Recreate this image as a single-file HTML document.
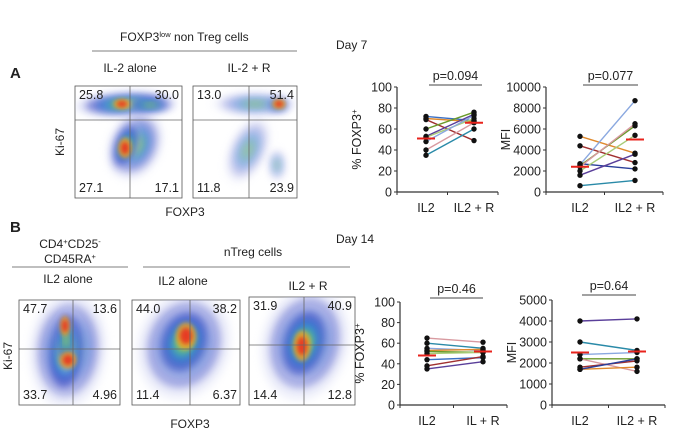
<!DOCTYPE html>
<html><head><meta charset="utf-8">
<style>
body{margin:0;background:#fff;}
#root{position:relative;width:700px;height:446px;overflow:hidden;font-family:"Liberation Sans",Arial,sans-serif;color:#222;}
svg{position:absolute;left:0;top:0;}
</style></head>
<body>
<div id="root">
<svg id="fig" width="700" height="446" viewBox="0 0 700 446">
<defs>
 <filter id="bl" x="-50%" y="-50%" width="200%" height="200%"><feGaussianBlur stdDeviation="4"/></filter>
 <filter id="bl2" x="-50%" y="-50%" width="200%" height="200%"><feGaussianBlur stdDeviation="2"/></filter>
</defs>
<g font-size="12" fill="#222">
 <text x="10" y="78" font-size="15" font-weight="bold">A</text>
 <text x="10" y="232" font-size="15" font-weight="bold">B</text>
 <text x="336" y="49">Day 7</text>
 <text x="336" y="243">Day 14</text>
 <text x="120" y="41">FOXP3<tspan font-size="7.5" dy="-4">low</tspan><tspan dy="4"> non Treg cells</tspan></text>
 <line x1="92" y1="51" x2="297" y2="51" stroke="#555" stroke-width="0.8"/>
 <text x="130" y="72" text-anchor="middle">IL-2 alone</text>
 <text x="249" y="72" text-anchor="middle">IL-2 +  R</text>
 <text x="64" y="142" text-anchor="middle" transform="rotate(-90 64 142)">Ki-67</text>
 <text x="185" y="216" text-anchor="middle">FOXP3</text>
 <text x="70" y="248" text-anchor="middle">CD4<tspan font-size="7.5" dy="-4">+</tspan><tspan dy="4">CD25</tspan><tspan font-size="7.5" dy="-4">-</tspan></text>
 <text x="70" y="263" text-anchor="middle">CD45RA<tspan font-size="7.5" dy="-4">+</tspan></text>
 <line x1="12" y1="267" x2="128" y2="267" stroke="#555" stroke-width="0.8"/>
 <text x="253" y="256" text-anchor="middle">nTreg cells</text>
 <line x1="143" y1="267" x2="350" y2="267" stroke="#555" stroke-width="0.8"/>
 <text x="68" y="283" text-anchor="middle">IL2 alone</text>
 <text x="183" y="285" text-anchor="middle">IL2 alone</text>
 <text x="308" y="290" text-anchor="middle">IL2 + R</text>
 <text x="12" y="356" text-anchor="middle" transform="rotate(-90 12 356)">Ki-67</text>
 <text x="190" y="428" text-anchor="middle">FOXP3</text>
</g>
<g id="flows"></g>
<g id="charts" font-size="12.5" fill="#222"></g>
</svg>
</div>
<script>
// ---- Scatter-line chart data ----
var categoriesA = ["IL2", "IL2 + R"];
var categoriesB = ["IL2", "IL + R"];
var a1Pre  = [72, 70, 69, 60, 53, 52, 48, 40, 35];
var a1Post = [68, 67, 49, 76, 74, 70, 73, 66, 60];
var a1Mean = [51, 66];
var a2Pre  = [5300, 4400, 2700, 2600, 2500, 2400, 2000, 1600, 600];
var a2Post = [3700, 2800, 2200, 8700, 6300, 6500, 5400, 3600, 1100];
var a2Mean = [2400, 5000];
var b1Pre  = [65, 60, 55, 53, 52, 50, 44, 38, 35];
var b1Post = [61, 55, 53, 54, 51, 51, 46, 47, 42];
var b1Mean = [48, 52];
var b2Pre  = [4000, 3000, 2400, 2200, 2200, 1800, 1700, 1700];
var b2Post = [4100, 2600, 2500, 2200, 1600, 2100, 1800, 2200];
var b2Mean = [2500, 2550];
var ticksPct = [0, 20, 40, 60, 80, 100];
var ticksA2 = [0, 2000, 4000, 6000, 8000, 10000];
var ticksB2 = [0, 1000, 2000, 3000, 4000, 5000];
var pValues = ["p=0.094", "p=0.077", "p=0.46", "p=0.64"];
var colA1 = ["#3a6fc4","#e0892c","#a03030","#6a9a2a","#5a3f9a","#a8cc78","#8aa8e0","#d89aa0","#2a8aa8"];
var colA2 = ["#e0892c","#a03030","#2a3f9a","#8aa8e0","#6a9a2a","#d89aa0","#a8cc78","#5a3f9a","#2a8aa8"];
var colB1 = ["#d89aa0","#2a8aa8","#8aa8e0","#e0892c","#6a9a2a","#a8cc78","#3a6fc4","#a03030","#5a3f9a"];
var colB2 = ["#5a3f9a","#2a8aa8","#8aa8e0","#6a9a2a","#d89aa0","#a03030","#e0892c","#2a3f9a"];

var NS = "http://www.w3.org/2000/svg";
function mk(tag, attrs, parent){ var e=document.createElementNS(NS,tag); for(var k in attrs) e.setAttribute(k,attrs[k]); parent.appendChild(e); return e; }

function drawChart(id, box, ticks, cats, pre, post, mean, cols, ytitle, pLabel){
  var root=document.getElementById("charts");
  var g=mk("g",{},root);
  
  
  var ymax=ticks[ticks.length-1];
  function y(v){ return box.y0 - (v/ymax)*(box.y0-box.y1); }
  function x(i){ return i===0?box.c0:box.c1; }
  mk("line",{x1:box.ax,y1:box.y1,x2:box.ax,y2:box.y0,stroke:"#333","stroke-width":1.2},g);
  mk("line",{x1:box.ax,y1:box.y0,x2:box.xe,y2:box.y0,stroke:"#333","stroke-width":1.2},g);
  ticks.forEach(function(t){
    mk("line",{x1:box.ax-3,y1:y(t),x2:box.ax,y2:y(t),stroke:"#333"},g);
    var tx=mk("text",{x:box.ax-5,y:y(t)+4.5,"text-anchor":"end","font-size":"12.5"},g); tx.textContent=t;
    
    
  });
  [box.ax,(box.ax+box.xe)/2,box.xe].forEach(function(xx){ mk("line",{x1:xx,y1:box.y0,x2:xx,y2:box.y0+3,stroke:"#333"},g); });
  cats.forEach(function(c,i){
    var t=mk("text",{x:x(i),y:box.y0+20,"text-anchor":"middle","font-size":"12.5"},g); t.textContent=c;
    
    
  });
  var yt=mk("text",{x:box.ax-36,y:(box.y0+box.y1)/2,"text-anchor":"middle","font-size":"12.5",transform:"rotate(-90 "+(box.ax-36)+" "+((box.y0+box.y1)/2)+")"},g);
  yt.innerHTML=ytitle;
  
  
  for(var i=0;i<pre.length;i++){
    var l=mk("line",{x1:x(0),y1:y(pre[i]),x2:x(1),y2:y(post[i]),stroke:cols[i],"stroke-width":1.4},g);
    
    
  }
  for(var i=0;i<pre.length;i++){
    var p1=mk("circle",{cx:x(0),cy:y(pre[i]),r:2.7,fill:"#111"},g);
    
    
    var p2=mk("circle",{cx:x(1),cy:y(post[i]),r:2.7,fill:"#111"},g);
    
    
  }
  mean.forEach(function(m,i){
    var ml=mk("line",{x1:x(i)-9,y1:y(m),x2:x(i)+9,y2:y(m),stroke:"#e8231c","stroke-width":2},g);
    
    
  });
  var pt=mk("text",{x:(box.p0+box.p1)/2,y:box.py-5,"text-anchor":"middle","font-size":"12.5"},g); pt.textContent=pLabel;
  
  
  mk("line",{x1:box.p0,y1:box.py,x2:box.p1,y2:box.py,stroke:"#444","stroke-width":0.9},g);
}
var FOX='% FOXP3<tspan font-size="8" dy="-4">+</tspan>';
drawChart("chart-a-foxp3",{ax:397,xe:498,y0:192,y1:87,c0:426,c1:474,p0:429,p1:482,py:85},ticksPct,categoriesA,a1Pre,a1Post,a1Mean,colA1,FOX,pValues[0]);
drawChart("chart-a-mfi",{ax:546,xe:663,y0:192,y1:87,c0:580,c1:635,p0:583,p1:638,py:85},ticksA2,categoriesA,a2Pre,a2Post,a2Mean,colA2,"MFI",pValues[1]);
drawChart("chart-b-foxp3",{ax:400,xe:507,y0:405,y1:302,c0:427,c1:483,p0:430,p1:483,py:298},ticksPct,categoriesB,b1Pre,b1Post,b1Mean,colB1,FOX,pValues[2]);
drawChart("chart-b-mfi",{ax:552,xe:665,y0:405,y1:300,c0:580,c1:637,p0:582,p1:636,py:295},ticksB2,categoriesA,b2Pre,b2Post,b2Mean,colB2,"MFI",pValues[3]);

// ---- Flow cytometry plots (illustrative density blobs) ----
// blob: cx, cy, rx, ry, rotation, intensity (0-1)
var flowPlots = [
 {name:"flow-a-il2", x0:75,y0:86,x1:182,y1:198,vx:130,hy:120,q:["25.8","30.0","27.1","17.1"],
  blobs:[[125,104,42,10,-3,0.8],[135,145,22,30,25,0.55],[126,146,10,22,20,0.8],[150,105,22,7,0,0.6]], hot:[[122,104,5,3],[125,148,4,6]]},
 {name:"flow-a-il2r", x0:193,y0:86,x1:297,y1:198,vx:249,hy:120,q:["13.0","51.4","11.8","23.9"],
  blobs:[[255,104,36,10,0,0.35],[248,150,16,30,25,0.3],[277,165,8,14,0,0.25],[278,105,10,7,0,0.5]], hot:[[279,104,4,3]]},
 {name:"flow-b-naive", x0:19,y0:300,x1:120,y1:405,vx:73,hy:349,q:["47.7","13.6","33.7","4.96"],
  blobs:[[68,350,32,48,5,0.55],[66,352,18,38,5,0.85],[66,340,8,28,0,0.8]], hot:[[65,326,3,6],[68,360,5,5]]},
 {name:"flow-b-ntreg-il2", x0:132,y0:300,x1:240,y1:405,vx:190,hy:349,q:["44.0","38.2","11.4","6.37"],
  blobs:[[184,345,38,46,20,0.55],[184,342,24,32,20,0.8]], hot:[[186,336,6,8]]},
 {name:"flow-b-ntreg-il2r", x0:249,y0:297,x1:355,y1:405,vx:304,hy:345,q:["31.9","40.9","14.4","12.8"],
  blobs:[[305,343,36,48,15,0.55],[304,343,22,34,15,0.8]], hot:[[302,346,5,9]]}
];
var fg=document.getElementById("flows");
flowPlots.forEach(function(p){
  var g=mk("g",{},fg);
  
  
  mk("rect",{x:p.x0,y:p.y0,width:p.x1-p.x0,height:p.y1-p.y0,fill:"#fff",stroke:"#555","stroke-width":0.8},g);
  var clip="c"+p.name; var cp=mk("clipPath",{id:clip},g); mk("rect",{x:p.x0,y:p.y0,width:p.x1-p.x0,height:p.y1-p.y0},cp);
  var b=mk("g",{"clip-path":"url(#"+clip+")"},g);
  var layers=[["#c8ccf0",1.2,0.6],["#3a45c0",0.95,0.75],["#2a70d8",0.72,0.7],["#30b0d0",0.55,0.7],["#6cc860",0.4,0.75],["#d8e040",0.24,0.8]];
  p.blobs.forEach(function(bl){
    layers.forEach(function(L){
      mk("ellipse",{cx:bl[0],cy:bl[1],rx:bl[2]*L[1],ry:bl[3]*L[1],fill:L[0],opacity:L[2]*bl[5],filter:"url(#bl)",transform:"rotate("+bl[4]+" "+bl[0]+" "+bl[1]+")"},b);
    });
  });
  p.hot.forEach(function(h){
    mk("ellipse",{cx:h[0],cy:h[1],rx:h[2]*1.7,ry:h[3]*1.7,fill:"#f0a020",opacity:0.8,filter:"url(#bl2)"},b);
    mk("ellipse",{cx:h[0],cy:h[1],rx:h[2],ry:h[3],fill:"#e83020",opacity:0.9,filter:"url(#bl2)"},b);
  });
  mk("line",{x1:p.vx,y1:p.y0,x2:p.vx,y2:p.y1,stroke:"#666","stroke-width":0.8},g);
  mk("line",{x1:p.x0,y1:p.hy,x2:p.x1,y2:p.hy,stroke:"#666","stroke-width":0.8},g);
  var pos=[[p.x0+4,p.y0+13,"start"],[p.x1-3,p.y0+13,"end"],[p.x0+4,p.y1-6,"start"],[p.x1-3,p.y1-6,"end"]];
  p.q.forEach(function(v,i){
    var t=mk("text",{x:pos[i][0],y:pos[i][1],"text-anchor":pos[i][2],"font-size":"12.5",fill:"#222"},g); t.textContent=v;
    
    
  });
});
</script>
</body></html>
